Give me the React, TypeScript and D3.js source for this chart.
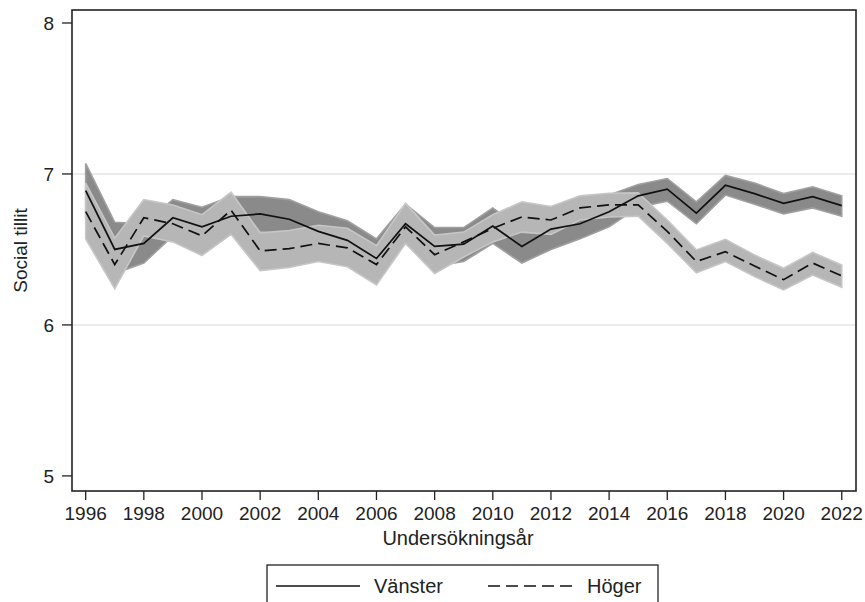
import { useEffect } from 'react'
import * as d3 from 'd3'

// survey years
const years = [1996, 1997, 1998, 1999, 2000, 2001, 2002, 2003, 2004, 2005, 2006, 2007, 2008, 2009,
  2010, 2011, 2012, 2013, 2014, 2015, 2016, 2017, 2018, 2019, 2020, 2021, 2022]

// Vänster: mean + confidence band
const vansterMean = [6.89, 6.50, 6.54, 6.71, 6.65, 6.72, 6.735, 6.70, 6.62, 6.56, 6.44, 6.67, 6.52, 6.535,
  6.655, 6.52, 6.635, 6.67, 6.75, 6.855, 6.90, 6.74, 6.925, 6.87, 6.805, 6.85, 6.79]
const vansterLo = [6.71, 6.34, 6.41, 6.59, 6.53, 6.60, 6.62, 6.57, 6.49, 6.43, 6.31, 6.54, 6.39, 6.42,
  6.54, 6.41, 6.50, 6.57, 6.65, 6.78, 6.82, 6.67, 6.86, 6.80, 6.735, 6.775, 6.72]
const vansterHi = [7.07, 6.68, 6.67, 6.83, 6.78, 6.85, 6.85, 6.83, 6.75, 6.69, 6.57, 6.80, 6.645, 6.645,
  6.775, 6.635, 6.76, 6.78, 6.86, 6.93, 6.97, 6.815, 6.99, 6.94, 6.87, 6.915, 6.855]

// Höger: mean + confidence band
const hogerMean = [6.75, 6.40, 6.71, 6.67, 6.59, 6.76, 6.49, 6.505, 6.54, 6.51, 6.40, 6.65, 6.465, 6.55,
  6.64, 6.715, 6.695, 6.775, 6.795, 6.795, 6.62, 6.42, 6.485, 6.39, 6.30, 6.41, 6.325]
const hogerLo = [6.57, 6.24, 6.59, 6.55, 6.46, 6.60, 6.36, 6.38, 6.42, 6.385, 6.265, 6.54, 6.34, 6.45,
  6.55, 6.615, 6.60, 6.695, 6.715, 6.72, 6.54, 6.345, 6.42, 6.32, 6.232, 6.33, 6.25]
const hogerHi = [6.94, 6.575, 6.83, 6.795, 6.73, 6.88, 6.61, 6.625, 6.66, 6.64, 6.525, 6.805, 6.595, 6.615,
  6.73, 6.815, 6.785, 6.855, 6.872, 6.875, 6.695, 6.497, 6.567, 6.464, 6.375, 6.48, 6.397]

const yTicks = [5, 6, 7, 8]
const yGrid = [6, 7]
const xTicks = d3.range(1996, 2023, 2)

const W = 865
const H = 602
const FONT = '"Liberation Sans", Arial, Helvetica, sans-serif'

export default function App() {
  useEffect(() => {
    document.body.style.margin = '0'
  }, [])

  const left = 72, right = 856, top = 10, bottom = 491
  const x = d3.scaleLinear().domain([1995.53, 2022.49]).range([left, right])
  const y = d3.scaleLinear().domain([4.9, 8.086]).range([bottom, top])

  const band = (lo: number[], hi: number[]) =>
    d3.area<number>()
      .x((_, i) => x(years[i]))
      .y0((_, i) => y(lo[i]))
      .y1((_, i) => y(hi[i]))(years) ?? ''

  const line = (vals: number[]) =>
    d3.line<number>()
      .x((_, i) => x(years[i]))
      .y((_, i) => y(vals[i]))(years) ?? ''

  return (
    <svg width={W} height={H} style={{ display: 'block', background: '#fff' }} fontFamily={FONT}>
      {/* grid */}
      {yGrid.map((t) => (
        <line key={t} x1={left} x2={right} y1={y(t)} y2={y(t)} stroke="#e4e4e4" strokeWidth={1.6} />
      ))}

      {/* confidence bands */}
      <path d={band(vansterLo, vansterHi)} fill="#8a8a8a" stroke="#a0a0a0" strokeWidth={1.6} />
      <path d={band(hogerLo, hogerHi)} fill="#b6b6b6" stroke="#c6c6c6" strokeWidth={1.6} />

      {/* mean lines */}
      <path d={line(vansterMean)} fill="none" stroke="#111" strokeWidth={1.7} />
      <path d={line(hogerMean)} fill="none" stroke="#111" strokeWidth={1.7} strokeDasharray="12,6" />

      {/* frame */}
      <rect x={left} y={top} width={right - left} height={bottom - top} fill="none" stroke="#222" strokeWidth={1.6} />

      {/* y axis */}
      {yTicks.map((t) => (
        <g key={t}>
          <line x1={left - 10} x2={left} y1={y(t)} y2={y(t)} stroke="#222" strokeWidth={1.3} />
          <text x={left - 18} y={y(t)} dy="0.36em" textAnchor="end" fontSize={19} fill="#222">{t}</text>
        </g>
      ))}
      <text transform={`translate(27,${(top + bottom) / 2}) rotate(-90)`} textAnchor="middle" fontSize={19} fill="#222">
        Social tillit
      </text>

      {/* x axis */}
      {xTicks.map((t) => (
        <g key={t}>
          <line x1={x(t)} x2={x(t)} y1={bottom} y2={bottom + 9} stroke="#222" strokeWidth={1.3} />
          <text x={x(t)} y={520} textAnchor="middle" fontSize={19} fill="#222">{t}</text>
        </g>
      ))}
      <text x={(left + right) / 2 - 6} y={545} textAnchor="middle" fontSize={20} fill="#222">Undersökningsår</text>

      {/* legend */}
      <rect x={267} y={565} width={391} height={60} fill="#fff" stroke="#222" strokeWidth={1.3} />
      <line x1={276} x2={360} y1={586} y2={586} stroke="#111" strokeWidth={1.6} />
      <text x={374} y={593} fontSize={20} fill="#222">Vänster</text>
      <line x1={488} x2={573} y1={586} y2={586} stroke="#111" strokeWidth={1.6} strokeDasharray="12,6" />
      <text x={587} y={593} fontSize={20} fill="#222">Höger</text>
    </svg>
  )
}
